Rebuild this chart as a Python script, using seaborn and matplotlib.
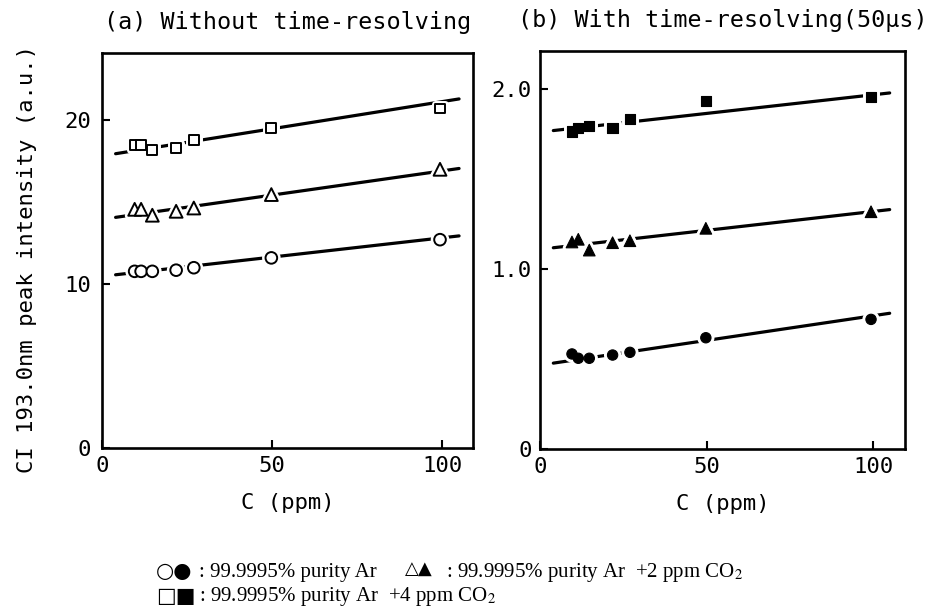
import matplotlib
matplotlib.use('Agg')
import matplotlib.pyplot as plt
import matplotlib.patheffects as pe
import seaborn as sns
import pandas as pd

# ---------------- data ----------------
conc = [9.6, 11.5, 14.8, 21.8, 27.0, 49.8, 99.4]

# (a) without time-resolving
sq_a = [18.46, 18.46, 18.15, 18.30, 18.80, 19.50, 20.70]
tri_a = [14.55, 14.55, 14.19, 14.43, 14.63, 15.45, 16.99]
circ_a = [10.77, 10.77, 10.77, 10.84, 10.99, 11.59, 12.70]

# (b) with time-resolving (50 us)
sq_b = [1.763, 1.782, 1.794, 1.782, 1.833, 1.935, 1.954]
tri_b = [1.150, 1.165, 1.105, 1.146, 1.157, 1.226, 1.318]
circ_b = [0.528, 0.504, 0.504, 0.522, 0.537, 0.618, 0.720]

# fitted straight lines (end points)
fit_x = [4, 105]
fit_sq_a = [17.94, 21.28]
fit_tri_a = [14.06, 17.04]
fit_circ_a = [10.56, 12.93]
fit_sq_b = [1.769, 1.978]
fit_tri_b = [1.118, 1.330]
fit_circ_b = [0.477, 0.754]

x_ticks = [0, 50, 100]
x_ticklabels = ['0', '50', '100']
ya_ticks = [0, 10, 20]
ya_ticklabels = ['0', '10', '20']
yb_ticks = [0, 1.0, 2.0]
yb_ticklabels = ['0', '1.0', '2.0']

title_a = '(a) Without time-resolving'
title_b = '(b) With time-resolving(50\u03bcs)'
xlabel = 'C (ppm)'
ylabel = 'CI 193.0nm peak intensity (a.u.)'
leg_sym = ['\u25cb\u25cf', '\u25b3\u25b2', '\u25a1\u25a0']
leg_txt = [': 99.9995% purity Ar',
           ': 99.9995% purity Ar  +2 ppm CO$_2$',
           ': 99.9995% purity Ar  +4 ppm CO$_2$']

# ---------------- style ----------------
sns.set_theme(style='ticks')
plt.rcParams['font.family'] = ['DejaVu Sans Mono', 'DejaVu Sans']
plt.rcParams['mathtext.fontset'] = 'stix'

W, H = 932, 610
fig = plt.figure(figsize=(W / 100, H / 100), dpi=100)
fig.patch.set_facecolor('white')


def rect(x0, x1, ytop, ybot):
    return [x0 / W, 1 - ybot / H, (x1 - x0) / W, (ybot - ytop) / H]


axA = fig.add_axes(rect(102, 473, 53, 448))
axB = fig.add_axes(rect(540, 905, 51, 449))

halo = [pe.Stroke(linewidth=5, foreground='white'), pe.Normal()]


def draw_series(ax, fy, vals, marker, size, filled):
    sns.lineplot(x=fit_x, y=fy, ax=ax, color='black', linewidth=2.3, zorder=2)
    if filled:
        sns.scatterplot(x=conc, y=vals, ax=ax, marker=marker, s=size,
                        color='black', edgecolor='black', linewidth=0.8, zorder=3)
    else:
        sns.scatterplot(x=conc, y=vals, ax=ax, marker=marker, s=size,
                        color='white', edgecolor='black', linewidth=1.4, zorder=3)
    ax.collections[-1].set_path_effects(halo)


draw_series(axA, fit_sq_a, sq_a, 's', 50, False)
draw_series(axA, fit_tri_a, tri_a, '^', 85, False)
draw_series(axA, fit_circ_a, circ_a, 'o', 70, False)

draw_series(axB, fit_sq_b, sq_b, 's', 55, True)
draw_series(axB, fit_tri_b, tri_b, '^', 70, True)
draw_series(axB, fit_circ_b, circ_b, 'o', 55, True)

for ax, yt, ytl, ylim, xlim, title, ypad in [
        (axA, ya_ticks, ya_ticklabels, (0, 24.08), (0, 109.1), title_a, 8),
        (axB, yb_ticks, yb_ticklabels, (0, 2.211), (0, 109.6), title_b, 6)]:
    ax.set_xlim(*xlim)
    ax.set_ylim(*ylim)
    ax.set_xticks(x_ticks)
    ax.set_xticklabels(x_ticklabels)
    ax.set_yticks(yt)
    ax.set_yticklabels(ytl)
    ax.tick_params(axis='both', direction='in', length=6, width=1.5,
                   colors='black', labelsize=16, top=False, right=False)
    ax.tick_params(axis='x', pad=6)
    ax.tick_params(axis='y', pad=ypad)
    for sp in ax.spines.values():
        sp.set_visible(True)
        sp.set_linewidth(1.9)
        sp.set_color('black')
    ax.set_xlabel(xlabel, fontsize=16, labelpad=12, color='black')
    ax.set_ylabel('')
    ax.set_title(title, fontsize=16.8, pad=17, color='black')
    ax.grid(False)
    ax.set_facecolor('white')

fig.text(27 / W, 1 - 259 / H, ylabel, rotation=90, fontsize=16,
         ha='center', va='center', color='black')

serif = ['Liberation Serif', 'DejaVu Serif']
# legend line 1
fig.text(156 / W, 1 - 571 / H, leg_sym[0], family='DejaVu Sans', fontsize=15,
         ha='left', va='center', color='black')
fig.text(199 / W, 1 - 572 / H, leg_txt[0], family=serif, fontsize=15,
         ha='left', va='center', color='black')
fig.text(405 / W, 1 - 570 / H, leg_sym[1], family='DejaVu Sans', fontsize=13,
         ha='left', va='center', color='black')
fig.text(446 / W, 1 - 572 / H, leg_txt[1], family=serif, fontsize=15,
         ha='left', va='center', color='black')
# legend line 2
fig.text(156 / W, 1 - 596 / H, leg_sym[2], family='DejaVu Sans', fontsize=15,
         ha='left', va='center', color='black')
fig.text(199 / W, 1 - 597 / H, leg_txt[2], family=serif, fontsize=15,
         ha='left', va='center', color='black')

fig.savefig('out.png', dpi=100, facecolor='white')
